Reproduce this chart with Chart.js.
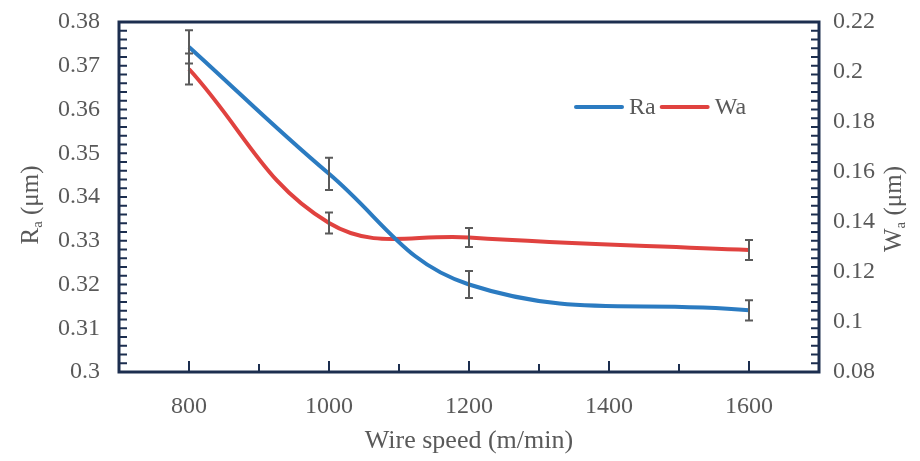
<!DOCTYPE html>
<html>
<head>
<meta charset="utf-8">
<script src="https://cdn.jsdelivr.net/npm/chart.js@4.4.0/dist/chart.umd.min.js"></script>
<style>
body { margin: 0; background: #fff; }
#wrap { width: 920px; height: 461px; }
</style>
</head>
<body>
<div id="wrap"><canvas id="chart" width="920" height="461"></canvas></div>
<script>
// Wire speed (m/min) and measured roughness / waviness with error bars
const wireSpeed = [800, 1000, 1200, 1600];
const raValues = [0.3743, 0.3453, 0.3200, 0.3141];
const raErrors = [0.0038, 0.0037, 0.0031, 0.0023];
const waValues = [0.2012, 0.1396, 0.1338, 0.1288];
const waErrors = [0.0062, 0.0042, 0.0038, 0.0040];

// Axis ticks
const xTicks = [800, 1000, 1200, 1400, 1600];
const xMinorTicks = [700, 900, 1100, 1300, 1500, 1700];
const raTicks = [0.30, 0.31, 0.32, 0.33, 0.34, 0.35, 0.36, 0.37, 0.38];
const waTicks = [0.08, 0.10, 0.12, 0.14, 0.16, 0.18, 0.20, 0.22];

const xTitle = "Wire speed (m/min)";
const leftTitle = ["R", "a", " (\u03bcm)"];
const rightTitle = ["W", "a", " (\u03bcm)"];

const FONT = '"Liberation Serif", "DejaVu Serif", serif';
const TEXT = '#595959';
const FRAME = '#1c2e4f';
const BLUE = '#2b7bc1';
const RED = '#e0423f';

const fmt = v => String(Number(v.toFixed(3)));

// Frame, inward ticks, error bars, legend and axis titles
const decorations = {
    id: 'decorations',
    afterDatasetsDraw(chart) {
        const ctx = chart.ctx;
        const x = chart.scales.x, yL = chart.scales.yL, yR = chart.scales.yR;
        ctx.save();
        ctx.strokeStyle = '#5a5a5a';
        ctx.lineWidth = 2;
        const bars = (vals, errs, scale) => {
            vals.forEach((v, i) => {
                const px = x.getPixelForValue(wireSpeed[i]);
                const top = scale.getPixelForValue(v + errs[i]);
                const bot = scale.getPixelForValue(v - errs[i]);
                ctx.beginPath();
                ctx.moveTo(px, top); ctx.lineTo(px, bot);
                ctx.moveTo(px - 4, top); ctx.lineTo(px + 4, top);
                ctx.moveTo(px - 4, bot); ctx.lineTo(px + 4, bot);
                ctx.stroke();
            });
        };
        bars(raValues, raErrors, yL);
        bars(waValues, waErrors, yR);
        ctx.restore();
    },
    afterDraw(chart) {
        const ctx = chart.ctx;
        const a = chart.chartArea;
        const x = chart.scales.x, yL = chart.scales.yL, yR = chart.scales.yR;
        ctx.save();
        ctx.strokeStyle = FRAME;
        ctx.lineWidth = 2;
        ctx.beginPath();
        xTicks.forEach(v => {
            const px = x.getPixelForValue(v);
            ctx.moveTo(px, a.bottom); ctx.lineTo(px, a.bottom - 11);
        });
        xMinorTicks.forEach(v => {
            const px = x.getPixelForValue(v);
            ctx.moveTo(px, a.bottom); ctx.lineTo(px, a.bottom - 8);
        });
        for (let i = 0; i <= 40; i++) {
            const pl = yL.getPixelForValue(0.30 + i * 0.002);
            ctx.moveTo(a.left, pl); ctx.lineTo(a.left + 8, pl);
            const pr = yR.getPixelForValue(0.08 + i * 0.0035);
            ctx.moveTo(a.right, pr); ctx.lineTo(a.right - 8, pr);
        }
        ctx.stroke();
        ctx.lineWidth = 3;
        ctx.strokeRect(a.left, a.top, a.right - a.left, a.bottom - a.top);

        // legend
        ctx.font = '24px ' + FONT;
        ctx.textBaseline = 'middle';
        ctx.textAlign = 'left';
        let lx = 576;
        const ly = 107;
        chart.data.datasets.forEach(ds => {
            ctx.strokeStyle = ds.borderColor;
            ctx.lineWidth = 4;
            ctx.lineCap = 'round';
            ctx.beginPath();
            ctx.moveTo(lx, ly); ctx.lineTo(lx + 46, ly);
            ctx.stroke();
            ctx.fillStyle = TEXT;
            ctx.fillText(ds.label, lx + 53, ly + 1);
            lx += 53 + ctx.measureText(ds.label).width + 6;
        });

        // rotated axis titles with subscript
        const title = (parts, cx, cy) => {
            ctx.save();
            ctx.translate(cx, cy);
            ctx.rotate(-Math.PI / 2);
            ctx.fillStyle = TEXT;
            ctx.textBaseline = 'alphabetic';
            ctx.font = '25px ' + FONT;
            const w0 = ctx.measureText(parts[0]).width;
            const w2 = ctx.measureText(parts[2]).width;
            ctx.font = '15px ' + FONT;
            const w1 = ctx.measureText(parts[1]).width;
            let tx = -(w0 + w1 + w2) / 2;
            ctx.font = '25px ' + FONT;
            ctx.fillText(parts[0], tx, 8);
            tx += w0;
            ctx.font = '15px ' + FONT;
            ctx.fillText(parts[1], tx, 12);
            tx += w1;
            ctx.font = '25px ' + FONT;
            ctx.fillText(parts[2], tx, 8);
            ctx.restore();
        };
        title(leftTitle, 30, 205);
        title(rightTitle, 893, 209);
        ctx.restore();
    }
};

const tickFont = { family: FONT, size: 24 };
const noPad = s => { s.paddingTop = 0; s.paddingBottom = 0; s.paddingLeft = 0; s.paddingRight = 0; };

new Chart(document.getElementById('chart'), {
    type: 'line',
    data: {
        datasets: [
            {
                label: 'Ra',
                data: wireSpeed.map((s, i) => ({ x: s, y: raValues[i] })),
                yAxisID: 'yL',
                borderColor: BLUE,
                borderWidth: 4,
                pointRadius: 0,
                tension: 0.4,
                fill: false
            },
            {
                label: 'Wa',
                data: wireSpeed.map((s, i) => ({ x: s, y: waValues[i] })),
                yAxisID: 'yR',
                borderColor: RED,
                borderWidth: 4,
                pointRadius: 0,
                tension: 0.4,
                fill: false
            }
        ]
    },
    options: {
        responsive: false,
        animation: false,
        layout: { padding: { top: 22, bottom: 4, left: 0, right: 0 } },
        plugins: { legend: { display: false }, tooltip: { enabled: false } },
        scales: {
            x: {
                type: 'linear',
                min: 700,
                max: 1700,
                afterBuildTicks: s => { s.ticks = xTicks.map(v => ({ value: v })); },
                afterFit: s => { s.height = 85; noPad(s); },
                grid: { display: false, drawTicks: false },
                border: { display: false },
                ticks: { color: TEXT, font: tickFont, padding: 20, maxRotation: 0, autoSkip: false, callback: v => String(v) },
                title: { display: true, text: xTitle, color: TEXT, font: { family: FONT, size: 26 }, padding: 0 }
            },
            yL: {
                type: 'linear',
                position: 'left',
                min: 0.30,
                max: 0.38,
                afterBuildTicks: s => { s.ticks = raTicks.map(v => ({ value: v })); },
                afterFit: s => { s.width = 119; noPad(s); },
                grid: { display: false, drawTicks: false },
                border: { display: false },
                ticks: { color: TEXT, font: tickFont, padding: 19, callback: fmt }
            },
            yR: {
                type: 'linear',
                position: 'right',
                min: 0.08,
                max: 0.22,
                afterBuildTicks: s => { s.ticks = waTicks.map(v => ({ value: v })); },
                afterFit: s => { s.width = 101; noPad(s); },
                grid: { display: false, drawTicks: false },
                border: { display: false },
                ticks: { color: TEXT, font: tickFont, padding: 14, callback: fmt }
            }
        }
    },
    plugins: [decorations]
});
</script>
</body>
</html>
